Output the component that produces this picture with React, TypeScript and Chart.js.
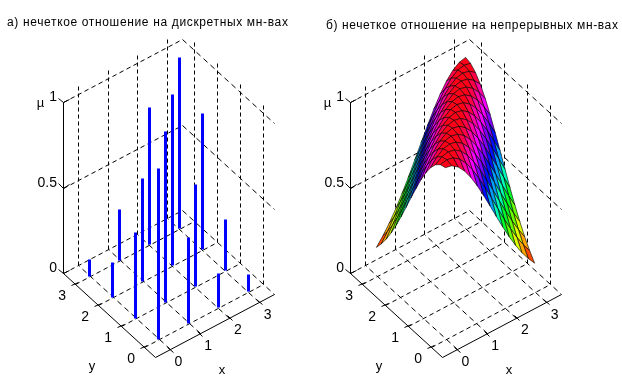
import React, { useEffect, useRef } from "react";
import { Chart, registerables } from "chart.js";

Chart.register(...registerables);

// ---------- data ----------
const xTicks = [0, 1, 2, 3];
const yTicks = [0, 1, 2, 3];
const zTicks = [0, 0.5, 1];
const zTickLabels = ["0", "0.5", "1"];
const titleDiscrete = "а) нечеткое отношение на дискретных мн-вах";
const titleContinuous = "б) нечеткое отношение на непрерывных мн-вах";
const xName = "x";
const yName = "y";
const zName = "µ";

// stems: muDiscrete[y][x]
const muDiscreteY0 = [1, 0.5, 0.2, 0.1];
const muDiscreteY1 = [0.5, 1, 0.6, 0.3];
const muDiscreteY2 = [0.2, 0.6, 1, 0.8];
const muDiscreteY3 = [0.1, 0.3, 0.8, 1];
const muDiscrete = [muDiscreteY0, muDiscreteY1, muDiscreteY2, muDiscreteY3];

// surface: sampled grid, value read by lattice offset |i-j|
const meshGrid = [0, 0.214, 0.429, 0.643, 0.857, 1.071, 1.286, 1.5, 1.714, 1.929, 2.143, 2.357, 2.571, 2.786, 3];
const ridgeProfile = [1, 0.991, 0.964, 0.921, 0.863, 0.795, 0.718, 0.638, 0.556, 0.475, 0.399, 0.329, 0.266, 0.212, 0.165];

// ---------- projection ----------
const LIM_LO = -0.5;
const LIM_HI = 3.5;
const Z_TOP = 1.05;
const project = (ox: number, x: number, y: number, z: number) => ({
  x: ox + (x - LIM_LO) * 29.75 - (y - LIM_LO) * 23,
  y: 357 - (x - LIM_LO) * 15.75 - (y - LIM_LO) * 21 - z * 171,
});
const snap = (p: { x: number; y: number }) => ({ x: Math.round(p.x) + 0.5, y: Math.round(p.y) + 0.5 });

const line = (pts: any[], color: string, width: number, dash: number[] = []) => ({
  data: pts,
  showLine: true,
  pointRadius: 0,
  borderColor: color,
  borderWidth: width,
  borderDash: dash,
  fill: false,
  tension: 0,
  clip: false,
});

// dash measured along the line's major pixel axis, as the original renderer does
const dashed = (a: { x: number; y: number }, b: { x: number; y: number }) => {
  const dx = Math.abs(a.x - b.x);
  const dy = Math.abs(a.y - b.y);
  const k = Math.hypot(dx, dy) / Math.max(dx, dy);
  return line([a, b], "#000", 1, [4 * k, 3 * k]);
};

function frame(ox: number) {
  const P = (x: number, y: number, z: number) => snap(project(ox, x, y, z));
  const out: any[] = [];
  // floor grid
  for (const x of xTicks) out.push(dashed(P(x, LIM_LO, 0), P(x, LIM_HI, 0)));
  for (const y of yTicks) out.push(dashed(P(LIM_LO, y, 0), P(LIM_HI, y, 0)));
  // back wall edges at each z level
  for (const z of zTicks) {
    out.push(dashed(P(LIM_LO, LIM_HI, z), P(LIM_HI, LIM_HI, z)));
    out.push(dashed(P(LIM_HI, LIM_HI, z), P(LIM_HI, LIM_LO, z)));
  }
  // wall verticals
  for (const x of xTicks) out.push(dashed(P(x, LIM_HI, 0), P(x, LIM_HI, Z_TOP)));
  for (const y of yTicks) out.push(dashed(P(LIM_HI, y, 0), P(LIM_HI, y, Z_TOP)));
  // solid axes
  out.push(line([P(LIM_LO, LIM_LO, 0), P(LIM_HI, LIM_LO, 0)], "#000", 1));
  out.push(line([P(LIM_LO, LIM_LO, 0), P(LIM_LO, LIM_HI, 0)], "#000", 1));
  out.push(line([P(LIM_LO, LIM_HI, 0), P(LIM_LO, LIM_HI, 1)], "#000", 1));
  // ticks
  for (const x of xTicks) out.push(line([P(x, LIM_LO - 0.12, 0), P(x, LIM_LO + 0.12, 0)], "#000", 1));
  for (const y of yTicks) out.push(line([P(LIM_LO - 0.12, y, 0), P(LIM_LO + 0.12, y, 0)], "#000", 1));
  for (const z of zTicks) {
    out.push(line([P(LIM_LO, LIM_HI, z), P(LIM_LO, LIM_HI + 0.2, z)], "#000", 1));
    out.push(line([P(LIM_LO, LIM_HI, z), P(LIM_LO + 0.2, LIM_HI, z)], "#000", 1));
  }
  return out;
}

function stems(ox: number) {
  const out: any[] = [];
  const cells: { x: number; y: number; z: number }[] = [];
  yTicks.forEach((y, j) => xTicks.forEach((x, i) => cells.push({ x, y, z: muDiscrete[j][i] })));
  cells.sort((a, b) => b.x + b.y - (a.x + a.y));
  for (const c of cells) {
    out.push(line([snap(project(ox, c.x, c.y, 0)), snap(project(ox, c.x, c.y, c.z))], "#0000ff", 3));
  }
  return out;
}

function hsvColor(z: number, lo: number, hi: number) {
  const idx = Math.min(63, Math.floor(((z - lo) / (hi - lo)) * 64));
  const h = (idx / 64) * 6;
  const k = Math.floor(h);
  const f = h - k;
  const v = [
    [1, f, 0],
    [1 - f, 1, 0],
    [0, 1, f],
    [0, 1 - f, 1],
    [f, 0, 1],
    [1, 0, 1 - f],
  ][k % 6];
  return `rgb(${Math.round(v[0] * 255)},${Math.round(v[1] * 255)},${Math.round(v[2] * 255)})`;
}

function surface(ox: number) {
  const lo = Math.min(...ridgeProfile);
  const hi = Math.max(...ridgeProfile);
  const Z = (i: number, j: number) => ridgeProfile[Math.abs(i - j)];
  const quads: { key: number; ds: any }[] = [];
  const n = meshGrid.length - 1;
  for (let i = 0; i < n; i++) {
    for (let j = 0; j < n; j++) {
      const pts = [
        project(ox, meshGrid[i], meshGrid[j], Z(i, j)),
        project(ox, meshGrid[i + 1], meshGrid[j], Z(i + 1, j)),
        project(ox, meshGrid[i + 1], meshGrid[j + 1], Z(i + 1, j + 1)),
        project(ox, meshGrid[i], meshGrid[j + 1], Z(i, j + 1)),
        project(ox, meshGrid[i], meshGrid[j], Z(i, j)),
      ];
      const ds: any = line(pts, "#000", 0.6);
      ds.fill = "shape";
      ds.backgroundColor = hsvColor(Z(i, j), lo, hi);
      quads.push({ key: i + j, ds });
    }
  }
  quads.sort((a, b) => b.key - a.key);
  return quads.map((q) => q.ds);
}

type Panel = { title: string; titleX: number; titleY: number; spacing: number; ox: number; marks: (ox: number) => any[] };

const labelPlugin = (p: Panel) => ({
  id: "labels3d",
  afterDraw(chart: any) {
    const ctx = chart.ctx;
    const sx = chart.scales.x;
    const sy = chart.scales.y;
    const at = (q: { x: number; y: number }) => ({ x: sx.getPixelForValue(q.x), y: sy.getPixelForValue(q.y) });
    ctx.save();
    ctx.fillStyle = "#000";
    ctx.textBaseline = "middle";

    ctx.font = "12px 'Liberation Sans'";
    ctx.textAlign = "left";
    (ctx as any).letterSpacing = p.spacing + "px";
    ctx.fillText(p.title, p.titleX, p.titleY);
    (ctx as any).letterSpacing = "0px";

    ctx.font = "14px 'Liberation Sans'";
    ctx.textAlign = "center";
    for (const x of xTicks) {
      const a = at(project(p.ox, x, LIM_LO, 0));
      ctx.fillText(String(x), a.x + 8.5, a.y + 13);
    }
    for (const y of yTicks) {
      const a = at(project(p.ox, LIM_LO, y, 0));
      ctx.fillText(String(y), a.x - 12.3, a.y + 12.7);
    }
    ctx.textAlign = "right";
    zTicks.forEach((z, i) => {
      const a = at(project(p.ox, LIM_LO, LIM_HI, z));
      ctx.fillText(zTickLabels[i], a.x - 6, a.y - 4.5);
    });
    ctx.textAlign = "center";
    ctx.font = "13px 'Liberation Sans'";
    const base = project(p.ox, LIM_LO, LIM_LO, 0);
    const xL = at({ x: base.x + 67, y: base.y + 13 });
    ctx.fillText(xName, xL.x, xL.y);
    const yL = at({ x: base.x - 63, y: base.y + 9.5 });
    ctx.fillText(yName, yL.x, yL.y);
    const zL = at({ x: base.x - 114.5, y: base.y - 254 });
    ctx.fillText(zName, zL.x, zL.y);
    ctx.restore();
  },
});

const panels: Panel[] = [
  { title: titleDiscrete, titleX: 7, titleY: 23, spacing: 0.65, ox: 155, marks: stems },
  { title: titleContinuous, titleX: 15, titleY: 26, spacing: 0.62, ox: 131, marks: surface },
];

function PanelChart({ panel, left }: { panel: Panel; left: number }) {
  const ref = useRef<HTMLCanvasElement>(null);
  useEffect(() => {
    const layers = [...frame(panel.ox), ...panel.marks(panel.ox)];
    layers.reverse();
    const chart = new Chart(ref.current as HTMLCanvasElement, {
      type: "scatter",
      data: { datasets: layers },
      options: {
        animation: false,
        responsive: false,
        events: [],
        layout: { padding: 0 },
        plugins: { legend: { display: false }, tooltip: { enabled: false }, title: { display: false } },
        scales: {
          x: { type: "linear", min: 0, max: 311, display: false },
          y: { type: "linear", min: 0, max: 384, reverse: true, display: false },
        },
      },
      plugins: [labelPlugin(panel)],
    } as any);
    return () => chart.destroy();
  }, [panel]);
  return <canvas ref={ref} width={311} height={384} style={{ position: "absolute", left, top: 0, width: 311, height: 384, display: "block" }} />;
}

export default function App() {
  return (
    <div style={{ position: "fixed", left: 0, top: 0, width: 622, height: 384, background: "#fff" }}>
      <PanelChart panel={panels[0]} left={0} />
      <PanelChart panel={panels[1]} left={311} />
    </div>
  );
}
